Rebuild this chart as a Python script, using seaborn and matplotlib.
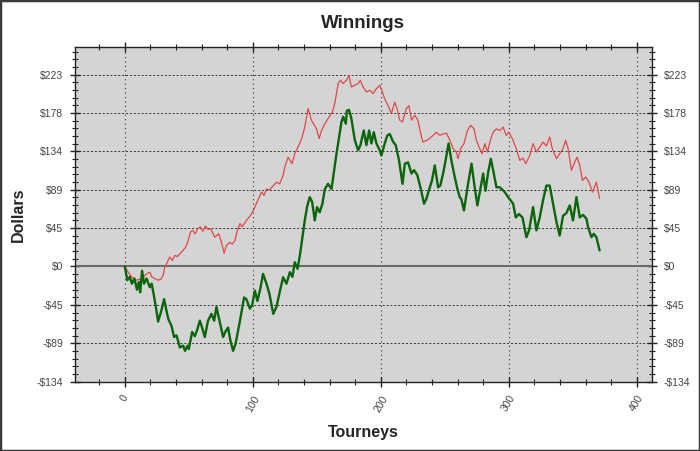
import matplotlib
matplotlib.use("Agg")
import matplotlib.pyplot as plt
import seaborn as sns
import pandas as pd
from matplotlib.ticker import MultipleLocator, FuncFormatter
from matplotlib.patches import Rectangle

# Winnings (tourney number, dollars)
red_tourney = [0, 2.6, 5.2, 9, 13, 17, 19.5, 21, 23.4, 26, 28.3, 30, 31.2, 32.6, 35, 37.2, 39, 41,
               44.3, 47.6, 49.5, 51.3, 53, 55, 57, 59, 61, 63, 65, 67, 69, 70.3, 73.4, 75.5, 77.6,
               79.4, 82, 84, 86, 88, 90, 91.6, 95, 97, 99, 101.6, 104, 106.8, 108.8, 110.7, 113,
               116, 118.5, 121, 123.7, 125, 127.6, 130.7, 132.8, 136.7, 138.5, 140.6, 143.2, 145.8,
               149.8, 151.8, 153.7, 156.3, 159.6, 162.2, 164, 166.7, 168.5, 170.6, 173.2, 175.2,
               177, 179.7, 182.3, 184, 186.2, 188.8, 191.4, 194, 196.6, 199.2, 201.3, 203, 205.7,
               208.3, 210.9, 213, 214.8, 217, 220, 222, 224, 226.6, 229, 231.8, 233, 237, 241,
               243.5, 246, 249, 251.3, 254, 256.5, 259, 260.4, 262.5, 265, 267.7, 270.3, 272.9,
               274.7, 277.3, 279.2, 281.3, 283.3, 286, 287.8, 290.4, 293, 295.6, 298, 300, 302.8,
               305.9, 308.6, 311, 313.3, 316.4, 319, 321.6, 324.2, 326.8, 329.4, 332, 334, 337.3,
               339.8, 342.4, 344.5, 346.4, 349, 351.6, 353.4, 355.5, 357.6, 360.2, 362.7, 365.4,
               368.5, 371]
red_dollars = [0, -6.6, -12, -16, -14, -8.5, -6.6, -12, -14, -16, -14.5, -10, -1, 3, 11, 7, 12.8,
               11.6, 16.7, 22.5, 30, 40, 42, 38, 44, 46, 41, 47, 43, 44, 38, 34, 38, 28, 15.5,
               24.4, 28, 26, 30, 42, 50, 46, 53.5, 57, 61, 69, 77, 86.5, 82.6, 90, 89, 94, 98,
               96, 106, 115.5, 127, 119.5, 131, 143, 150, 162, 183.5, 170, 160, 148.6, 158, 166,
               173.7, 179.5, 189, 212.6, 216.4, 212.6, 216.4, 222, 208.6, 210.6, 212.6, 216.4,
               208.6, 202.8, 204.8, 201, 206.7, 210.6, 202.8, 195, 187, 177.7, 191, 182, 170,
               168, 183.5, 187, 170, 175.7, 170, 150.5, 144.6, 147.4, 152.4, 156, 152.4, 154,
               155, 146.6, 137, 133, 125.3, 137, 142.8, 158, 164, 160, 146.6, 137, 131, 142.8,
               133, 148.6, 156, 160, 158, 162, 152.4, 156, 148.6, 137, 123.3, 126, 119.5, 129,
               142.8, 133, 138.8, 144.6, 140, 150.5, 137, 125.3, 131, 137, 146.6, 137, 111.7,
               121.4, 127, 117.5, 100, 104, 98, 86.5, 98, 79]

green_tourney = [0, 2, 4, 5.5, 7.5, 9.5, 11, 12, 13.5, 15, 17, 19.5, 21, 23, 24.7, 26, 28.6, 30.7,
                 32.5, 34, 36.5, 38.5, 40.4, 43, 45.6, 47, 49, 50, 52.6, 54.7, 56.5, 58.6, 60.4,
                 62.5, 65, 67.7, 69.8, 71.6, 73.4, 76.8, 78.5, 80.7, 82.5, 84.6, 86.5, 90, 93.2,
                 95, 97.7, 99.5, 101.6, 103.6, 106, 108, 110.7, 113, 116, 118.5, 121, 123.7,
                 126.3, 129, 131, 132.8, 135, 137, 140.6, 142.5, 144.5, 146.4, 148.4, 150.2,
                 152.3, 154.4, 156.3, 158.8, 161.5, 165.4, 169.3, 170.6, 172.7, 173.5, 175.2,
                 177, 179.7, 182.3, 184.1, 186.7, 188.8, 190.9, 192.7, 194.5, 196.6, 199.2,
                 200.5, 202.5, 205, 207, 209.6, 211.7, 214.3, 217, 218.8, 221.3, 224, 226,
                 228.6, 231.3, 233.8, 235.5, 237.5, 240, 242.2, 244.8, 246.5, 248.7, 250.5, 253,
                 255.2, 257.8, 259.9, 261.7, 263, 265, 268.2, 270.9, 273.4, 275.5, 280, 281.8,
                 284, 286, 287.8, 290.4, 293, 296.9, 299.5, 303.4, 305.5, 308, 310.7, 313.8,
                 315.9, 319, 321.6, 324.2, 326.8, 329.4, 332, 334.6, 337.3, 339.8, 342.4, 345,
                 347.7, 350.2, 352.9, 355.5, 358, 360.7, 362, 364.6, 366.4, 368.5, 371]
green_dollars = [0, -16, -12, -20, -14, -27, -18, -30, -5, -20, -14, -24, -20, -36, -51, -64, -51,
                 -38, -51, -61, -69, -82, -80, -94, -92, -98, -92, -96, -76, -81, -74, -63, -71,
                 -82, -63, -55, -63, -47, -59, -82, -76, -71, -86, -98, -90, -63, -36, -38, -49,
                 -45, -28, -40, -25, -8.5, -20, -32, -55, -47, -30, -12.5, -20, -6.6, -12, 5,
                 -2.7, 15, 53.5, 70, 80.6, 75, 53.5, 69, 63, 73, 90, 96, 90, 131, 168, 174, 166,
                 181, 182, 172, 147, 135, 141, 158, 141, 158, 143, 156, 143, 135, 129, 140, 152,
                 154, 145, 141, 123, 96, 119.5, 121, 108, 112, 106, 90, 73, 78, 88, 100, 117.5,
                 92, 94, 108, 122, 143, 123, 104, 90, 80.6, 78, 65, 96, 119.5, 92, 71, 108, 88,
                 110, 125, 112, 92, 92, 86.5, 80.6, 73, 57, 61, 57, 34, 42, 69, 42, 57, 77, 94,
                 94, 73, 51.5, 36, 59, 62, 71, 53.5, 80.6, 57, 60, 55.5, 45.7, 34, 38, 34, 18.6]

red_df = pd.DataFrame({"Tourney": red_tourney, "Dollars": red_dollars})
green_df = pd.DataFrame({"Tourney": green_tourney, "Dollars": green_dollars})

sns.set_style("white", {"axes.facecolor": "#d4d4d4", "axes.edgecolor": "#222222"})
plt.rcParams["font.family"] = ["Liberation Sans", "DejaVu Sans"]

fig = plt.figure(figsize=(7, 4.51), dpi=100, facecolor="white")
ax = fig.add_axes([0.107, 0.1537, 0.824, 0.742])
fig.patches.append(Rectangle((0, 0), 1, 1, transform=fig.transFigure, fill=False,
                             edgecolor="#3a3a3a", linewidth=2.5))

# zero line
ax.axhline(0, color="#6a6a6a", linewidth=1.5, zorder=1)

sns.lineplot(data=red_df, x="Tourney", y="Dollars", ax=ax, color="#e04848",
             linewidth=0.9, estimator=None, sort=False, zorder=3)
sns.lineplot(data=green_df, x="Tourney", y="Dollars", ax=ax, color="#0b650b",
             linewidth=1.7, estimator=None, sort=False, zorder=4)

ax.set_xlim(-39, 411.7)
ax.set_ylim(-133.85, 255)

ax.xaxis.set_major_locator(MultipleLocator(100))
ax.xaxis.set_minor_locator(MultipleLocator(20))
ax.yaxis.set_major_locator(MultipleLocator(44.6))
ax.yaxis.set_minor_locator(MultipleLocator(8.92))
ax.yaxis.set_major_formatter(FuncFormatter(
    lambda v, p: f"-${abs(v):.0f}" if v < -0.01 else f"${abs(v):.0f}"))

ax.grid(True, axis="x", which="major", color="#333333", linestyle=(0, (1, 3)), linewidth=0.8)
ax.grid(True, axis="y", which="major", color="#333333", linestyle=(0, (2, 2)), linewidth=0.7)
ax.set_axisbelow(True)

ax.tick_params(axis="y", which="major", direction="inout", length=7, width=1.0,
               left=True, right=True, labelleft=True, labelright=True,
               labelsize=7.5, labelcolor="#444444", pad=5, color="#222222")
ax.tick_params(axis="y", which="minor", direction="inout", length=4, width=0.8,
               left=True, right=True, color="#222222")
ax.tick_params(axis="x", which="major", direction="inout", length=7, width=1.0,
               bottom=True, top=True, labelsize=7.5, labelcolor="#444444", pad=5,
               labelrotation=60, color="#222222")
ax.tick_params(axis="x", which="minor", direction="inout", length=4, width=0.8,
               bottom=True, top=True, color="#222222")

ax.set_title("Winnings", fontsize=13.5, fontweight="bold", pad=14)
ax.set_xlabel("Tourneys", fontsize=11.5, fontweight="bold", labelpad=8)
ax.set_ylabel("Dollars", fontsize=11.5, fontweight="bold", labelpad=8)

for sp in ax.spines.values():
    sp.set_color("#222222")
    sp.set_linewidth(1.0)

fig.savefig("out.png", dpi=100, facecolor="white")
